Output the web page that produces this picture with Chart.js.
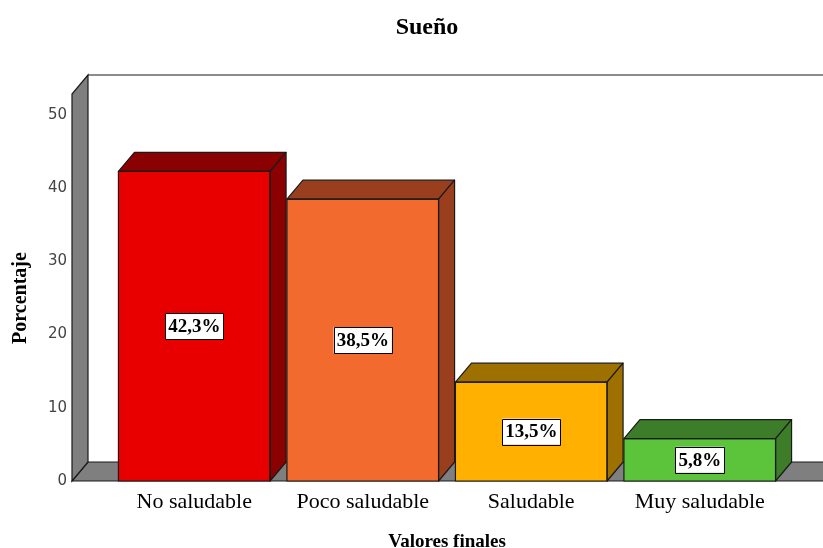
<!DOCTYPE html>
<html>
<head>
<meta charset="utf-8">
<script src="https://cdn.jsdelivr.net/npm/chart.js@4"></script>
<style>
html,body{margin:0;padding:0;background:#fff;}
#wrap{width:823px;height:548px;position:relative;}
</style>
</head>
<body>
<div id="wrap"><canvas id="c" width="823" height="548"></canvas></div>
<script>
const chartTitle = 'Sueño';
const categories = ['No saludable', 'Poco saludable', 'Saludable', 'Muy saludable'];
const porcentajes = [42.3, 38.5, 13.5, 5.8];
const yTicks = [0, 10, 20, 30, 40, 50];
const frontColors = ['#E80000', '#F26A2E', '#FFB000', '#5CC43A'];
const darkColors = ['#8B0000', '#9A3F1E', '#9E7000', '#3D7D2A'];

const DX = 16, DY = -19;
const SERIF = '"Liberation Serif", "Times New Roman", serif';

function fmt(v) { return v.toFixed(1).replace('.', ',') + '%'; }

const box3d = {
  id: 'box3d',
  beforeDatasetsDraw(chart) {
    const ctx = chart.ctx, a = chart.chartArea, W = chart.width;
    const fx = a.left - 38;
    const fy = a.bottom;
    const wallTopFront = a.top - 21;
    ctx.save();
    ctx.lineWidth = 1.2;
    ctx.strokeStyle = '#1a1a1a';
    ctx.beginPath();
    ctx.moveTo(fx, fy);
    ctx.lineTo(W + 5, fy);
    ctx.lineTo(W + 5, fy + DY);
    ctx.lineTo(fx + DX, fy + DY);
    ctx.closePath();
    ctx.fillStyle = '#7f7f7f';
    ctx.fill();
    ctx.stroke();
    ctx.beginPath();
    ctx.moveTo(fx, fy);
    ctx.lineTo(fx, wallTopFront);
    ctx.lineTo(fx + DX, wallTopFront + DY);
    ctx.lineTo(fx + DX, fy + DY);
    ctx.closePath();
    ctx.fillStyle = '#7f7f7f';
    ctx.fill();
    ctx.stroke();
    ctx.beginPath();
    ctx.moveTo(fx + DX, wallTopFront + DY);
    ctx.lineTo(W + 5, wallTopFront + DY);
    ctx.stroke();
    ctx.restore();
  },
  afterDatasetsDraw(chart) {
    const ctx = chart.ctx;
    const meta = chart.getDatasetMeta(0);
    ctx.save();
    ctx.lineWidth = 1.2;
    ctx.strokeStyle = '#1a1a1a';
    ctx.lineJoin = 'round';
    meta.data.forEach((bar, i) => {
      const p = bar.getProps(['x', 'y', 'base', 'width'], true);
      const x0 = p.x - p.width / 2, x1 = p.x + p.width / 2;
      const top = p.y, base = p.base;
      ctx.fillStyle = darkColors[i];
      ctx.beginPath();
      ctx.moveTo(x0, top);
      ctx.lineTo(x0 + DX, top + DY);
      ctx.lineTo(x1 + DX, top + DY);
      ctx.lineTo(x1, top);
      ctx.closePath();
      ctx.fill();
      ctx.stroke();
      ctx.beginPath();
      ctx.moveTo(x1, top);
      ctx.lineTo(x1 + DX, top + DY);
      ctx.lineTo(x1 + DX, base + DY);
      ctx.lineTo(x1, base);
      ctx.closePath();
      ctx.fill();
      ctx.stroke();
      ctx.strokeRect(x0, top, x1 - x0, base - top);
    });
    ctx.font = 'bold 19px ' + SERIF;
    ctx.textAlign = 'center';
    ctx.textBaseline = 'middle';
    meta.data.forEach((bar, i) => {
      const p = bar.getProps(['x', 'y', 'base'], true);
      const t = fmt(porcentajes[i]);
      const tw = ctx.measureText(t).width;
      const cy = (p.y + p.base) / 2;
      const bw = tw + 6, bh = 26;
      ctx.fillStyle = '#ffffff';
      ctx.fillRect(p.x - bw / 2, cy - bh / 2, bw, bh);
      ctx.lineWidth = 1;
      ctx.strokeStyle = '#000';
      ctx.strokeRect(Math.round(p.x - bw / 2) + 0.5, Math.round(cy - bh / 2) + 0.5, Math.round(bw), bh);
      ctx.fillStyle = '#000';
      ctx.fillText(t, p.x, cy + 1);
    });
    ctx.restore();
  },
  afterDraw(chart) {
    const ctx = chart.ctx;
    ctx.save();
    ctx.font = 'bold 24px ' + SERIF;
    ctx.fillStyle = '#000';
    ctx.textAlign = 'center';
    ctx.textBaseline = 'middle';
    ctx.fillText(chartTitle, 427, 28);
    ctx.restore();
  }
};

new Chart(document.getElementById('c'), {
  type: 'bar',
  data: {
    labels: categories,
    datasets: [{
      data: porcentajes,
      backgroundColor: frontColors,
      borderWidth: 0,
      barPercentage: 0.9,
      categoryPercentage: 1.0
    }]
  },
  options: {
    responsive: false,
    animation: false,
    devicePixelRatio: 1,
    layout: { padding: { top: 115, right: 39, left: 0, bottom: 0 } },
    plugins: { legend: { display: false }, tooltip: { enabled: false }, title: { display: false } },
    scales: {
      x: {
        afterFit(s) { s.height = 67; },
        grid: { display: false, drawTicks: false },
        border: { display: false },
        ticks: { color: '#000', font: { family: SERIF, size: 22 }, padding: 8 },
        title: { display: true, text: 'Valores finales', color: '#000', font: { family: SERIF, size: 19, weight: 'bold', lineHeight: 1 }, padding: { top: 0, bottom: -4 } }
      },
      y: {
        min: 0, max: 50,
        afterFit(s) { s.width = 110; },
        afterBuildTicks(s) { s.ticks = yTicks.map(v => ({ value: v })); },
        grid: { display: false, drawTicks: false },
        border: { display: false },
        ticks: { color: '#444', font: { family: '"DejaVu Sans", sans-serif', size: 15 }, padding: 43 },
        title: { display: true, text: 'Porcentaje', color: '#000', font: { family: SERIF, size: 20, weight: 'bold' }, padding: { top: 9, bottom: 0 } }
      }
    }
  },
  plugins: [box3d]
});
</script>
</body>
</html>
